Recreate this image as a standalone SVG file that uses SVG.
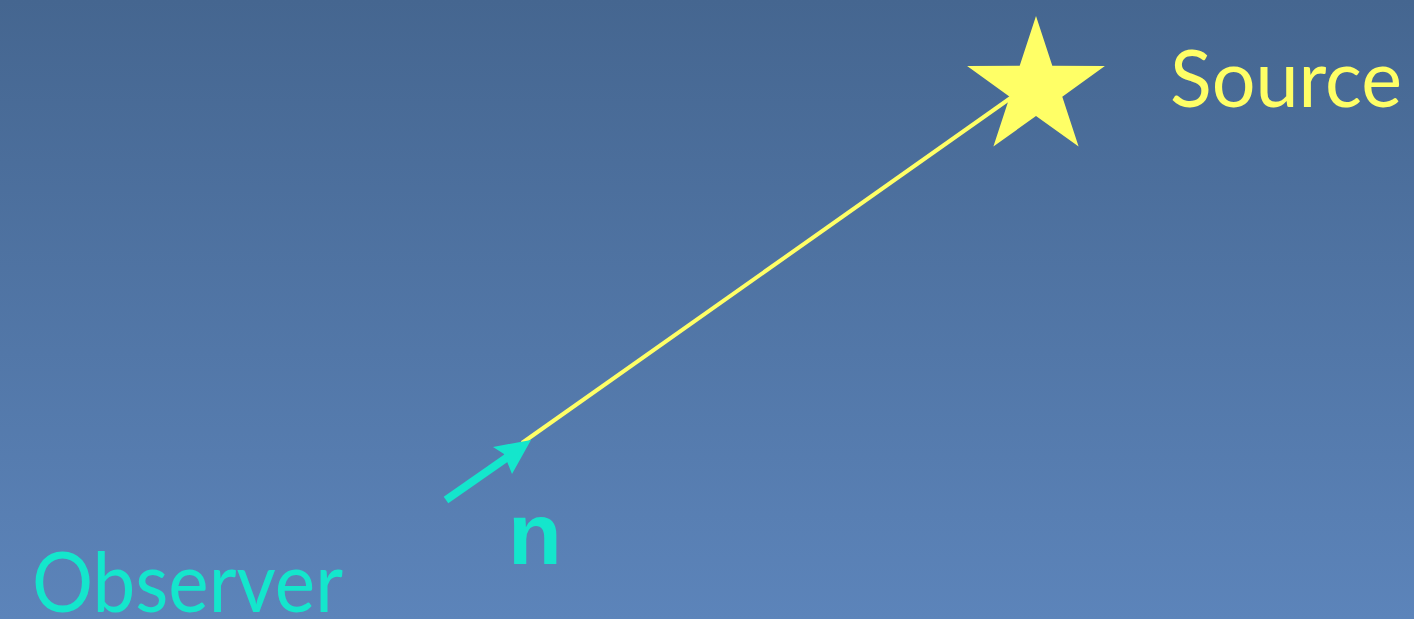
<svg xmlns="http://www.w3.org/2000/svg" width="1414" height="619" viewBox="0 0 1414 619">
<defs>
<linearGradient id="bg" x1="0" y1="0" x2="0" y2="1">
<stop offset="0" stop-color="#456690"/>
<stop offset="1" stop-color="#5c84ba"/>
</linearGradient>
<style>
.yel{fill:#ffff66}
.cy{fill:#14e6cc}
.lbl{font-family:Lato,"Open Sans","Liberation Sans",sans-serif;font-size:80px}
</style>
</defs>
<rect width="1414" height="619" fill="url(#bg)"/>
<g id="connectors">
<line x1="1012" y1="97" x2="522" y2="443" stroke="#ffff66" stroke-width="4"/>
<line x1="446" y1="500" x2="515" y2="452" stroke="#14e6cc" stroke-width="8"/>
<polygon class="cy" points="531,440 493,447 504,454 512,474"/>
</g>
<g id="source">
<polygon class="yel" points="1036,16 1052.3,65.8 1104.9,66 1062.3,96.8 1078.6,146.6 1036,116 993.4,146.6 1009.7,96.8 967.1,66 1019.7,65.8"/>
<text class="lbl yel" x="1170" y="107" textLength="232" lengthAdjust="spacingAndGlyphs">Source</text>
</g>
<g id="observer">
<text class="lbl cy" x="32" y="612" textLength="311" lengthAdjust="spacingAndGlyphs" style="font-size:84px">Observer</text>
</g>
<g id="n">
<text class="cy" x="508" y="564" style="font-family:'Liberation Sans',Arial,sans-serif;font-weight:bold;font-size:88px">n</text>
</g>
</svg>
